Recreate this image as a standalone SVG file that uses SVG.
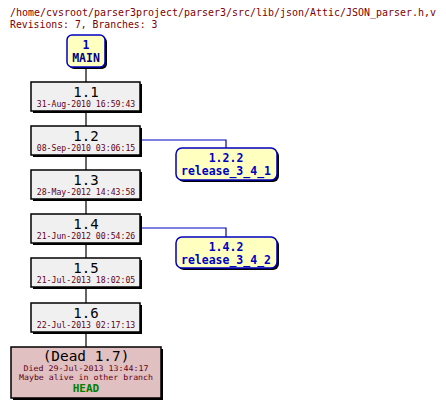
<svg xmlns="http://www.w3.org/2000/svg" width="446" height="407" viewBox="0 0 446 407">
<style>
.hdr{font-family:"DejaVu Sans Mono",monospace;font-size:9.8px;fill:#800000}
.rev{font-family:"DejaVu Sans Mono",monospace;font-size:14px;fill:#000;text-anchor:middle}
.date{font-family:"DejaVu Sans Mono",monospace;font-size:8.2px;fill:#600020;text-anchor:middle}
.br{font-family:"DejaVu Sans Mono",monospace;font-size:11.5px;font-weight:bold;fill:#0000c0;text-anchor:middle}
.box{fill:#f0f0f0;stroke:#000;stroke-width:1.5}
.dead{fill:#e0c0c0;stroke:#000;stroke-width:1.5}
.shadow{fill:#000}
.tag{fill:#ffffc0;stroke:#0000c0;stroke-width:1.5}
.conn{fill:none;stroke:#000;stroke-width:1.2}
.bconn{fill:none;stroke:#0000c0;stroke-width:1.2}
</style>
<rect width="446" height="407" fill="#fff"/>
<text class="hdr" x="10" y="16" textLength="426" lengthAdjust="spacingAndGlyphs">/home/cvsroot/parser3project/parser3/src/lib/json/Attic/JSON_parser.h,v</text>
<text class="hdr" x="10" y="28">Revisions: 7, Branches: 3</text>
<g id="connectors">
<path class="conn" d="M86 67V82M86 111V126M86 155V170M86 199V214M86 243V258M86 287V303M86 332V347"/>
<path class="bconn" d="M141 140H226V148M141 228H226V237"/>
</g>
<g id="main">
<rect class="shadow" x="69" y="37" width="38" height="32" rx="5"/>
<rect class="tag" x="67" y="35" width="38" height="32" rx="5"/>
<text class="br" x="86" y="49">1</text>
<text class="br" x="86" y="62" style="fill:#000080">MAIN</text>
</g>
<g id="r1_1">
<rect class="shadow" x="33" y="84" width="109" height="29"/>
<rect class="box" x="31" y="82" width="109" height="29"/>
<text class="rev" x="86" y="97">1.1</text>
<text class="date" x="86" y="107">31-Aug-2010 16:59:43</text>
</g>
<g id="r1_2">
<rect class="shadow" x="33" y="128" width="109" height="29"/>
<rect class="box" x="31" y="126" width="109" height="29"/>
<text class="rev" x="86" y="141">1.2</text>
<text class="date" x="86" y="151">08-Sep-2010 03:06:15</text>
</g>
<g id="r1_3">
<rect class="shadow" x="33" y="172" width="109" height="29"/>
<rect class="box" x="31" y="170" width="109" height="29"/>
<text class="rev" x="86" y="185">1.3</text>
<text class="date" x="86" y="195">28-May-2012 14:43:58</text>
</g>
<g id="r1_4">
<rect class="shadow" x="33" y="216" width="109" height="29"/>
<rect class="box" x="31" y="214" width="109" height="29"/>
<text class="rev" x="86" y="229">1.4</text>
<text class="date" x="86" y="239">21-Jun-2012 00:54:26</text>
</g>
<g id="r1_5">
<rect class="shadow" x="33" y="260" width="109" height="29"/>
<rect class="box" x="31" y="258" width="109" height="29"/>
<text class="rev" x="86" y="273">1.5</text>
<text class="date" x="86" y="283">21-Jul-2013 18:02:05</text>
</g>
<g id="r1_6">
<rect class="shadow" x="33" y="305" width="109" height="29"/>
<rect class="box" x="31" y="303" width="109" height="29"/>
<text class="rev" x="86" y="318">1.6</text>
<text class="date" x="86" y="328">22-Jul-2013 02:17:13</text>
</g>
<g id="r1_7">
<rect class="shadow" x="13" y="349" width="150" height="51"/>
<rect class="dead" x="11" y="347" width="150" height="51"/>
<text class="rev" x="86" y="361" style="font-size:14.4px">(Dead 1.7)</text>
<text class="date" x="86" y="371.3" style="font-size:7.8px" textLength="125" lengthAdjust="spacingAndGlyphs">Died 29-Jul-2013 13:44:17</text>
<text class="date" x="86" y="380.3" style="font-size:7.8px" textLength="134" lengthAdjust="spacingAndGlyphs">Maybe alive in other branch</text>
<text class="br" x="86" y="392" style="fill:#008000;font-size:11px">HEAD</text>
</g>
<g id="b1_2_2">
<rect class="shadow" x="178" y="150" width="101" height="32" rx="6"/>
<rect class="tag" x="176" y="148" width="101" height="32" rx="6"/>
<text class="br" x="226" y="162">1.2.2</text>
<text class="br" x="226" y="175">release_3_4_1</text>
</g>
<g id="b1_4_2">
<rect class="shadow" x="178" y="239" width="101" height="31" rx="6"/>
<rect class="tag" x="176" y="237" width="101" height="31" rx="6"/>
<text class="br" x="226" y="251">1.4.2</text>
<text class="br" x="226" y="264">release_3_4_2</text>
</g>
</svg>
